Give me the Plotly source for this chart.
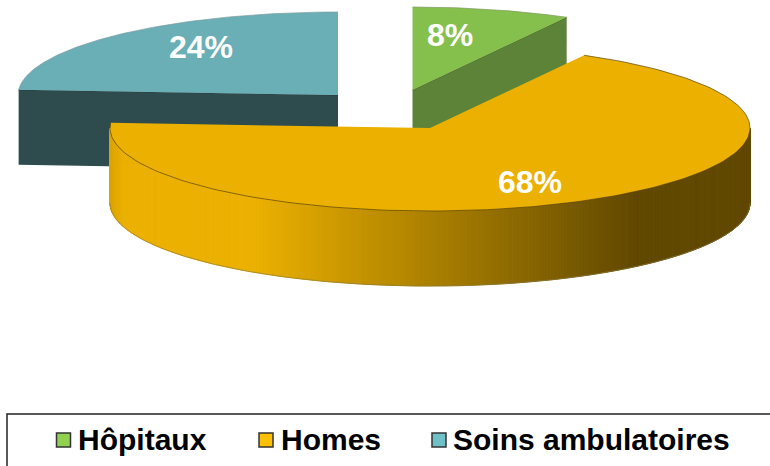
import numpy as np
import plotly.graph_objects as go

# Data
categories = ["Hôpitaux", "Homes", "Soins ambulatoires"]
values = [8, 68, 24]
labels = ["8%", "68%", "24%"]

# Style
top_colors = ["#86c04c", "#ebb000", "#69afb5"]
side_colors = ["#5c8337", "#614800", "#2e4b4e"]
swatch_colors = ["#92d050", "#ffc000", "#70c0c8"]
W, H = 770, 466
RX, RY, DEPTH = 320, 83, 75
centers = [(412.5, 90), (430, 128), (338, 95)]   # exploded slice apexes (px)
label_pos = [(450, 38), (530, 185), (201, 50)]
legend_sw_x = [63.5, 266, 439]
legend_text_x = [78, 281, 453]
LEG_Y = 440

# Slice angles from the values (clockwise from 12 o'clock)
edges = np.cumsum([0] + values) / sum(values) * 2 * np.pi


def rim(c, t, dz=0.0):
    return c[0] + RX * np.sin(t), c[1] - RY * np.cos(t) + dz


def poly(xs, ys, fill, line=None, lw=0.0):
    return go.Scatter(
        x=list(xs), y=list(ys), mode="lines", fill="toself", fillcolor=fill,
        line=dict(color=line or fill, width=lw), hoverinfo="skip", showlegend=False,
    )


def curve(xs, ys, col, lw=0.7):
    return go.Scatter(x=list(xs), y=list(ys), mode="lines", line=dict(color=col, width=lw),
                      hoverinfo="skip", showlegend=False)


def mix(a, b, f):
    a = np.array([int(a[i:i + 2], 16) for i in (1, 3, 5)])
    b = np.array([int(b[i:i + 2], 16) for i in (1, 3, 5)])
    r = (a + (b - a) * f).round().astype(int)
    return "#%02x%02x%02x" % tuple(r)


fig = go.Figure()


def top_face(i, outline):
    c = centers[i]
    t = np.linspace(edges[i], edges[i + 1], 180)
    xs, ys = rim(c, t)
    fig.add_trace(poly([c[0], *xs, c[0]], [c[1], *ys, c[1]], top_colors[i]))
    fig.add_trace(curve(xs, ys, outline))


def cut_face(i, t):
    c = centers[i]
    x, y = rim(c, t)
    fig.add_trace(poly([c[0], x, x, c[0], c[0]],
                       [c[1], y, y + DEPTH, c[1] + DEPTH, c[1]], side_colors[i]))
    fig.add_trace(curve([c[0], x], [c[1], y], "#2f4a1c" if i == 0 else "#24393b"))


# Soins ambulatoires (back left)
cut_face(2, edges[2])
top_face(2, "#7d9da0")

# Hôpitaux (back right)
cut_face(0, edges[1])
top_face(0, "#7c9a5c")

# Homes (front): shaded outer wall, one strip per step of angle
c = centers[1]
wall = np.linspace(np.pi / 2, min(edges[2], 1.5 * np.pi), 301)
for a, b in zip(wall[:-1], wall[1:]):
    t = np.linspace(a, b, 3)
    x, y = rim(c, t)
    xm = x.mean()
    f = np.clip((xm - 255) / (635 - 255), 0, 1)
    col = mix(top_colors[1], side_colors[1], f)
    if xm < 122:
        col = mix("#dba400", top_colors[1], (xm - 110) / 12)
    fig.add_trace(poly([*x, *x[::-1], x[0]], [*y, *(y + DEPTH)[::-1], y[0]], col, col, 1))
x, y = rim(c, wall)
fig.add_trace(curve(x, y + DEPTH, "#8a7a40", 0.6))
top_face(1, "#5a4300")

# Percentage labels
for (lx, ly), txt in zip(label_pos, labels):
    fig.add_trace(go.Scatter(
        x=[lx], y=[ly], mode="text", text=[txt], textposition="middle center",
        textfont=dict(family="Liberation Sans", size=32, color="white", weight="bold"),
        hoverinfo="skip", showlegend=False,
    ))

# Legend
for sx, tx, name, col in zip(legend_sw_x, legend_text_x, categories, swatch_colors):
    fig.add_trace(go.Scatter(
        x=[sx], y=[LEG_Y], mode="markers",
        marker=dict(symbol="square", size=14, color=col, line=dict(color="#333333", width=1.5)),
        hoverinfo="skip", showlegend=False,
    ))
    fig.add_annotation(
        x=tx, y=LEG_Y - 1, text=f"<b>{name}</b>", showarrow=False, xanchor="left", yanchor="middle",
        font=dict(family="Liberation Sans", size=30, color="black"),
        borderpad=0, borderwidth=0,
    )

fig.add_shape(type="rect", x0=7, y0=414, x1=790, y1=490,
              line=dict(color="#222222", width=1.5), layer="below")

fig.update_layout(
    width=W, height=H, margin=dict(l=0, r=0, t=0, b=0),
    paper_bgcolor="white", plot_bgcolor="white", showlegend=False,
    xaxis=dict(range=[0, W], visible=False, fixedrange=True),
    yaxis=dict(range=[H, 0], visible=False, fixedrange=True),
)
fig.write_html("out.html", config={"displayModeBar": False},
               post_script="document.body.style.margin='0';document.body.style.overflow='hidden';")
